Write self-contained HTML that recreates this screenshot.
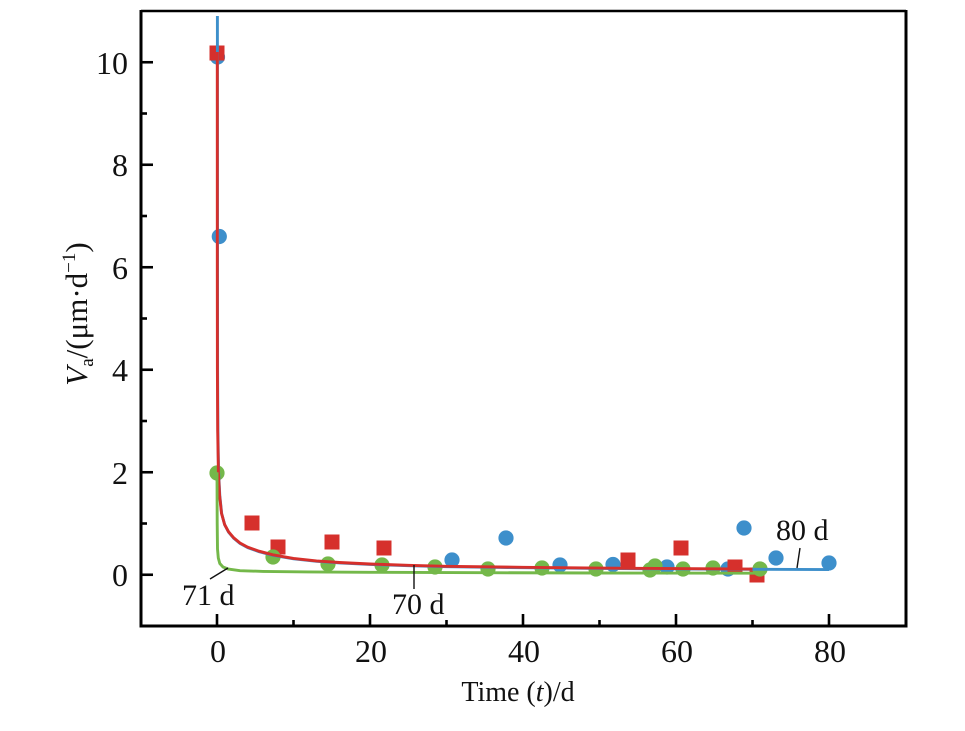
<!DOCTYPE html>
<html>
<head>
<meta charset="utf-8">
<style>
  html, body { margin:0; padding:0; background:#ffffff; }
  svg { display:block; }
  text { font-family: "Liberation Serif", "DejaVu Serif", serif; fill:#111; }
</style>
</head>
<body>
<svg width="965" height="731" viewBox="0 0 965 731" xmlns="http://www.w3.org/2000/svg">
  <rect x="0" y="0" width="965" height="731" fill="#ffffff"/>

  <!-- markers -->
  <g fill="#3d8fcb">
    <circle cx="217.5" cy="57" r="7.6"/>
    <circle cx="219.3" cy="236.5" r="7.6"/>
    <circle cx="452" cy="560" r="7.6"/>
    <circle cx="506" cy="538" r="7.6"/>
    <circle cx="560" cy="565" r="7.6"/>
    <circle cx="613" cy="564.5" r="7.6"/>
    <circle cx="667" cy="567" r="7.6"/>
    <circle cx="728" cy="569" r="7.6"/>
    <circle cx="744" cy="528" r="7.6"/>
    <circle cx="776" cy="558" r="7.6"/>
    <circle cx="829" cy="563" r="7.6"/>
  </g>
  <g fill="#d6302c">
    <rect x="209.5" y="45.5" width="15" height="15"/>
    <rect x="244.5" y="515.5" width="15" height="15"/>
    <rect x="270.5" y="539.5" width="15" height="15"/>
    <rect x="324.5" y="534.5" width="15" height="15"/>
    <rect x="376.5" y="540.5" width="15" height="15"/>
    <rect x="620.5" y="552.5" width="15" height="15"/>
    <rect x="673.5" y="540.5" width="15" height="15"/>
    <rect x="727.5" y="559.5" width="15" height="15"/>
    <rect x="749.5" y="567.5" width="15" height="15"/>
  </g>
  <g fill="#74b84a">
    <circle cx="217" cy="473" r="7.6"/>
    <circle cx="273" cy="557" r="7.6"/>
    <circle cx="328" cy="564" r="7.6"/>
    <circle cx="382" cy="565" r="7.6"/>
    <circle cx="435" cy="567" r="7.6"/>
    <circle cx="488" cy="569" r="7.6"/>
    <circle cx="542" cy="568" r="7.6"/>
    <circle cx="596" cy="569" r="7.6"/>
    <circle cx="650" cy="570" r="7.6"/>
    <circle cx="655" cy="566" r="7.6"/>
    <circle cx="683" cy="569" r="7.6"/>
    <circle cx="713" cy="568" r="7.6"/>
    <circle cx="760" cy="569" r="7.6"/>
  </g>

  <!-- curves -->
  <path fill="none" stroke="#3d8fcb" stroke-width="2.9" stroke-linejoin="round"
    d="M217.4,16 L217.4,52 L217.5,267.3 L217.6,369.8 L217.9,431.3 L218.6,472.3 L219.8,495.6 L221.7,513.8 L224.8,525 L228.6,532.2 L233.9,538.4 L240.1,543.5 L247.7,547.6 L259.2,551.7 L272.9,555.3 L293.6,558.8 L316.6,561.3 L339.5,562.9 L370,564.4 L408.3,565.7 L446.5,566.7 L523,567.7 L599.5,568.4 L676,568.9 L752.5,569.3 L829,569.6"/>
  <path fill="none" stroke="#d6302c" stroke-width="2.9" stroke-linejoin="round"
    d="M217.3,52 L217.3,267.3 L217.4,369.8 L217.7,431.3 L218.4,472.3 L219.6,495.3 L221.5,513.3 L224.6,524.5 L228.5,531.7 L233.8,537.9 L240,543 L247.6,547.1 L259.1,551.2 L272.8,554.8 L293.5,558.4 L316.5,560.9 L339.4,562.5 L370,564 L408.3,565.3 L446.5,566.3 L523,567.3 L599.5,568.1 L676,568.6 L752.5,569.1"/>
  <path fill="none" stroke="#74b84a" stroke-width="2.9" stroke-linejoin="round"
    d="M217,472.3 L217.2,523.5 L217.5,549 L218.3,558 L219.8,563.5 L223,567 L228.5,569.1 L240,570.65 L263,571.4 L308.8,571.9 L370,572.3 L484.8,572.7 L599.5,573 L760,573.2"/>

  <!-- frame -->
  <g stroke="#000" fill="none">
    <line x1="141" y1="11" x2="906" y2="11" stroke-width="2.4"/>
    <line x1="906" y1="10" x2="906" y2="627.5" stroke-width="3"/>
    <line x1="141" y1="10" x2="141" y2="627.5" stroke-width="3"/>
    <line x1="139.5" y1="626" x2="907.5" y2="626" stroke-width="3"/>
  </g>

  <!-- y ticks -->
  <g stroke="#000" stroke-width="2.6">
    <line x1="141" y1="574.75" x2="153" y2="574.75"/>
    <line x1="141" y1="472.25" x2="153" y2="472.25"/>
    <line x1="141" y1="369.75" x2="153" y2="369.75"/>
    <line x1="141" y1="267.25" x2="153" y2="267.25"/>
    <line x1="141" y1="164.75" x2="153" y2="164.75"/>
    <line x1="141" y1="62.25" x2="153" y2="62.25"/>
    <line x1="141" y1="523.5" x2="147" y2="523.5"/>
    <line x1="141" y1="421" x2="147" y2="421"/>
    <line x1="141" y1="318.5" x2="147" y2="318.5"/>
    <line x1="141" y1="216" x2="147" y2="216"/>
    <line x1="141" y1="113.5" x2="147" y2="113.5"/>
  </g>
  <!-- x ticks -->
  <g stroke="#000" stroke-width="2.6">
    <line x1="217" y1="626" x2="217" y2="614"/>
    <line x1="370" y1="626" x2="370" y2="614"/>
    <line x1="523" y1="626" x2="523" y2="614"/>
    <line x1="676" y1="626" x2="676" y2="614"/>
    <line x1="829" y1="626" x2="829" y2="614"/>
    <line x1="293.5" y1="626" x2="293.5" y2="620"/>
    <line x1="446.5" y1="626" x2="446.5" y2="620"/>
    <line x1="599.5" y1="626" x2="599.5" y2="620"/>
    <line x1="752.5" y1="626" x2="752.5" y2="620"/>
  </g>

  <!-- y tick labels -->
  <g font-size="32" text-anchor="end">
    <text x="128" y="586">0</text>
    <text x="128" y="484">2</text>
    <text x="128" y="381">4</text>
    <text x="128" y="279">6</text>
    <text x="128" y="176">8</text>
    <text x="128" y="74">10</text>
  </g>
  <!-- x tick labels -->
  <g font-size="32" text-anchor="middle">
    <text x="218" y="662">0</text>
    <text x="371" y="662">20</text>
    <text x="524" y="662">40</text>
    <text x="677" y="662">60</text>
    <text x="830" y="662">80</text>
  </g>

  <!-- axis titles -->
  <text x="518" y="701" font-size="28" text-anchor="middle">Time (<tspan font-style="italic">t</tspan>)/d</text>
  <text transform="translate(87,314) rotate(-90)" font-size="31" text-anchor="middle"><tspan font-style="italic">V</tspan><tspan font-size="19" dy="6">a</tspan><tspan dy="-6">/(μm·d</tspan><tspan font-size="19" dy="-12">−1</tspan><tspan dy="12">)</tspan></text>

  <!-- annotations -->
  <g stroke="#111" stroke-width="1.4">
    <line x1="210" y1="579" x2="228" y2="568"/>
    <line x1="414" y1="565" x2="414" y2="589"/>
    <line x1="800" y1="548" x2="797" y2="568"/>
  </g>
  <g font-size="30">
    <text x="182" y="605">71 d</text>
    <text x="392" y="614">70 d</text>
    <text x="776" y="540">80 d</text>
  </g>
</svg>
</body>
</html>
